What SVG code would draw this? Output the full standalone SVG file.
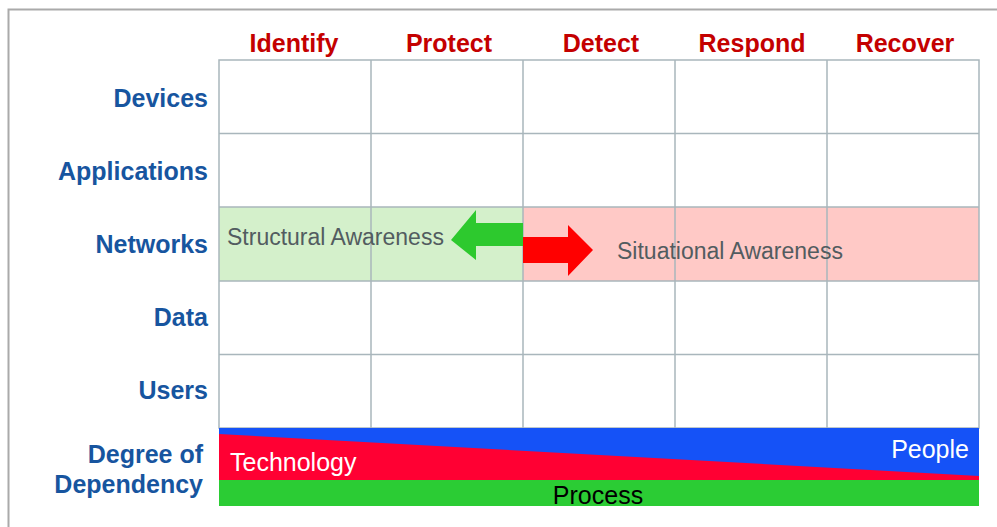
<svg xmlns="http://www.w3.org/2000/svg" width="997" height="527" viewBox="0 0 997 527">
<style>
.hdr{font-family:"Liberation Sans",Arial,sans-serif;font-weight:bold;font-size:25px;fill:#c40000;text-anchor:middle}
.row{font-family:"Liberation Sans",Arial,sans-serif;font-weight:bold;font-size:25px;fill:#17559f;text-anchor:end}
.lbl{font-family:"Liberation Sans",Arial,sans-serif;font-size:23px;fill:#525c60}
.band{font-family:"Liberation Sans",Arial,sans-serif;font-size:25px}
.grid{stroke:#a9b6bc;stroke-width:1.5;fill:none}
</style>
<rect width="997" height="527" fill="#ffffff"/>
<path d="M8.5 527 V9.5 H997" fill="none" stroke="#aaaaaa" stroke-width="2"/>
<g id="bands">
<rect x="219" y="207" width="304" height="74" fill="#d4f0cb"/>
<rect x="523" y="207" width="456" height="74" fill="#ffc9c6"/>
</g>
<g id="grid">
<rect class="grid" x="219" y="60" width="760" height="368"/>
<path class="grid" d="M371 60V428M523 60V428M675 60V428M827 60V428M219 133.5H979M219 207H979M219 281H979M219 354.5H979"/>
</g>
<g id="headers">
<text class="hdr" x="294" y="52">Identify</text>
<text class="hdr" x="449" y="52">Protect</text>
<text class="hdr" x="601" y="52">Detect</text>
<text class="hdr" x="752" y="52">Respond</text>
<text class="hdr" x="905" y="52">Recover</text>
</g>
<g id="rows">
<text class="row" x="208" y="107">Devices</text>
<text class="row" x="208" y="180">Applications</text>
<text class="row" x="208" y="253">Networks</text>
<text class="row" x="208" y="326">Data</text>
<text class="row" x="208" y="399">Users</text>
<text class="row" x="203" y="463">Degree of</text>
<text class="row" x="203" y="493">Dependency</text>
</g>
<g id="structural">
<text class="lbl" x="227" y="245">Structural Awareness</text>
</g>
<g id="situational">
<text class="lbl" x="617" y="259">Situational Awareness</text>
</g>
<g id="connectors">
<polygon points="523,223 476,223 476,210 451,240 476,260 476,246 523,246" fill="#2dc92e"/>
<polygon points="523,237 568,237 568,225 593,250 568,276 568,263 523,263" fill="#ff0000"/>
</g>
<g id="dependency">
<rect x="219" y="428" width="760" height="52" fill="#1552f7"/>
<polygon points="219,434 979,476 979,480 219,480" fill="#ff0033"/>
<rect x="219" y="480" width="760" height="26" fill="#2bcc34"/>
<text class="band" x="230" y="471" fill="#ffffff">Technology</text>
<text class="band" x="969" y="458" fill="#ffffff" text-anchor="end">People</text>
<text class="band" x="598" y="504" fill="#000000" text-anchor="middle">Process</text>
</g>
</svg>
